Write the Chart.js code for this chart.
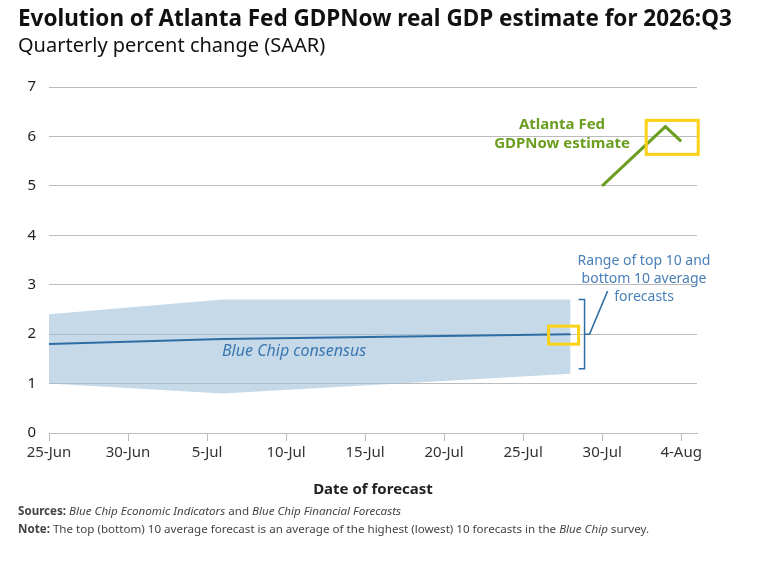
<!DOCTYPE html>
<html>
<head>
<meta charset="utf-8">
<script src="https://cdn.jsdelivr.net/npm/chart.js@4/dist/chart.umd.min.js"></script>
<style>
  html, body { margin: 0; padding: 0; background: #fff; }
  #wrap { width: 768px; height: 574px; position: relative; }
</style>
</head>
<body>
<div id="wrap"><canvas id="myChart" width="768" height="574"></canvas></div>
<script>
// Days counted from 25-Jun
const tickLabels = ['25-Jun', '30-Jun', '5-Jul', '10-Jul', '15-Jul', '20-Jul', '25-Jul', '30-Jul', '4-Aug'];
const yTicks = [0, 1, 2, 3, 4, 5, 6, 7];

const bandDays = [0, 11, 33];
const bandTop = [2.4, 2.7, 2.7];
const bandBottom = [1.0, 0.8, 1.2];

const consensusDays = [0, 11, 33];
const consensus = [1.8, 1.9, 2.0];

const gdpNowDays = [35, 39, 40];
const gdpNow = [5.0, 6.2, 5.9];

const FONT = '"Noto Sans", sans-serif';
const pts = (xs, ys) => xs.map((x, i) => ({ x: x, y: ys[i] }));

const annotations = {
  id: 'annotations',
  afterDatasetsDraw(chart) {
    const { ctx, scales: { x, y } } = chart;
    ctx.save();

    // yellow highlight boxes around latest points
    ctx.strokeStyle = '#fcd116';
    ctx.lineWidth = 3;
    const g = { x: x.getPixelForValue(gdpNowDays[gdpNowDays.length - 1]), y: y.getPixelForValue(gdpNow[gdpNow.length - 1]) };
    ctx.strokeRect(g.x - 35, g.y - 21, 52, 34);
    const c = { x: x.getPixelForValue(consensusDays[consensusDays.length - 1]), y: y.getPixelForValue(consensus[consensus.length - 1]) };
    ctx.strokeRect(c.x - 22, c.y - 8, 30, 18);

    // bracket for the range
    const bx = x.getPixelForValue(bandDays[bandDays.length - 1]) + 14;
    const bt = y.getPixelForValue(bandTop[bandTop.length - 1]);
    const bb = y.getPixelForValue(1.3);
    const bm = y.getPixelForValue(2.0);
    ctx.strokeStyle = '#2e6da4';
    ctx.lineWidth = 1.5;
    ctx.beginPath();
    ctx.moveTo(bx - 6, bt); ctx.lineTo(bx, bt); ctx.lineTo(bx, bb); ctx.lineTo(bx - 6, bb);
    ctx.moveTo(bx, bm); ctx.lineTo(bx + 5, bm); ctx.lineTo(bx + 23, bm - 43);
    ctx.stroke();

    // texts
    ctx.textAlign = 'center';
    ctx.textBaseline = 'middle';
    ctx.fillStyle = '#4a80b8';
    ctx.font = '14px ' + FONT;
    ctx.fillText('Range of top 10 and', 644, 261);
    ctx.fillText('bottom 10 average', 644, 279);
    ctx.fillText('forecasts', 644, 297);

    ctx.fillStyle = '#6b9e1f';
    ctx.font = 'bold 15px ' + FONT;
    ctx.fillText('Atlanta Fed', 562, 125);
    ctx.fillText('GDPNow estimate', 562, 144);

    ctx.fillStyle = '#3b78b0';
    ctx.font = 'italic 16px ' + FONT;
    ctx.textAlign = 'left';
    ctx.fillText('Blue Chip consensus', 222, 351);

    // header and notes
    ctx.fillStyle = '#111';
    ctx.font = 'bold 22.5px ' + FONT;
    ctx.fillText('Evolution of Atlanta Fed GDPNow real GDP estimate for 2026:Q3', 18, 20);
    ctx.font = '20px ' + FONT;
    ctx.fillText('Quarterly percent change (SAAR)', 18, 46);

    const FS = '11.6px ';
    ctx.fillStyle = '#444';
    ctx.font = 'bold ' + FS + FONT;
    ctx.fillText('Sources:', 18, 512);
    let w = ctx.measureText('Sources: ').width;
    ctx.font = 'italic ' + FS + FONT;
    ctx.fillText('Blue Chip Economic Indicators', 18 + w, 512);
    w += ctx.measureText('Blue Chip Economic Indicators').width;
    ctx.font = FS + FONT;
    ctx.fillText(' and ', 18 + w, 512);
    w += ctx.measureText(' and ').width;
    ctx.font = 'italic ' + FS + FONT;
    ctx.fillText('Blue Chip Financial Forecasts', 18 + w, 512);

    ctx.font = 'bold ' + FS + FONT;
    ctx.fillText('Note:', 18, 530);
    w = ctx.measureText('Note: ').width;
    ctx.font = FS + FONT;
    const n1 = 'The top (bottom) 10 average forecast is an average of the highest (lowest) 10 forecasts in the ';
    ctx.fillText(n1, 18 + w, 530);
    w += ctx.measureText(n1).width;
    ctx.font = 'italic ' + FS + FONT;
    ctx.fillText('Blue Chip', 18 + w, 530);
    w += ctx.measureText('Blue Chip').width;
    ctx.font = FS + FONT;
    ctx.fillText(' survey.', 18 + w, 530);

    ctx.restore();
  }
};

const ctx = document.getElementById('myChart').getContext('2d');
new Chart(ctx, {
  type: 'line',
  data: {
    datasets: [
      { label: 'Top 10', data: pts(bandDays, bandTop), borderWidth: 0, pointRadius: 0, fill: '+1', backgroundColor: 'rgba(158, 192, 217, 0.6)', tension: 0, order: 3 },
      { label: 'Bottom 10', data: pts(bandDays, bandBottom), borderWidth: 0, pointRadius: 0, fill: false, tension: 0, order: 3 },
      { label: 'Blue Chip consensus', data: pts(consensusDays, consensus), borderColor: '#2e6da4', borderWidth: 2, pointRadius: 0, fill: false, order: 1 },
      { label: 'GDPNow', data: pts(gdpNowDays, gdpNow), borderColor: '#6b9e1f', borderWidth: 3, pointRadius: 0, fill: false, order: 1 }
    ]
  },
  options: {
    responsive: false,
    animation: false,
    layout: { padding: { left: 18, top: 87, right: 71, bottom: 75 } },
    plugins: { legend: { display: false }, tooltip: { enabled: false } },
    scales: {
      x: {
        type: 'linear',
        min: 0,
        max: 41,
        afterBuildTicks: s => { s.ticks = tickLabels.map((_, i) => ({ value: i * 5 })); },
        afterFit: s => { s.height = 66; },
        ticks: {
          callback: v => tickLabels[v / 5],
          color: '#333',
          font: { family: FONT, size: 15 },
          padding: 3,
          maxRotation: 0,
          autoSkip: false
        },
        grid: { drawOnChartArea: false, drawTicks: true, tickLength: 8, color: '#bbb' },
        border: { display: true, color: '#bbb' },
        title: { display: true, text: 'Date of forecast', color: '#222', font: { family: FONT, size: 15, weight: 'bold' }, padding: 0 }
      },
      y: {
        min: 0,
        max: 7,
        afterBuildTicks: s => { s.ticks = yTicks.map(v => ({ value: v })); },
        afterFit: s => { s.width = 31; },
        ticks: { color: '#222', font: { family: FONT, size: 15 }, padding: 13 },
        grid: { color: '#bbb', drawTicks: false },
        border: { display: false }
      }
    }
  },
  plugins: [annotations]
});
</script>
</body>
</html>
